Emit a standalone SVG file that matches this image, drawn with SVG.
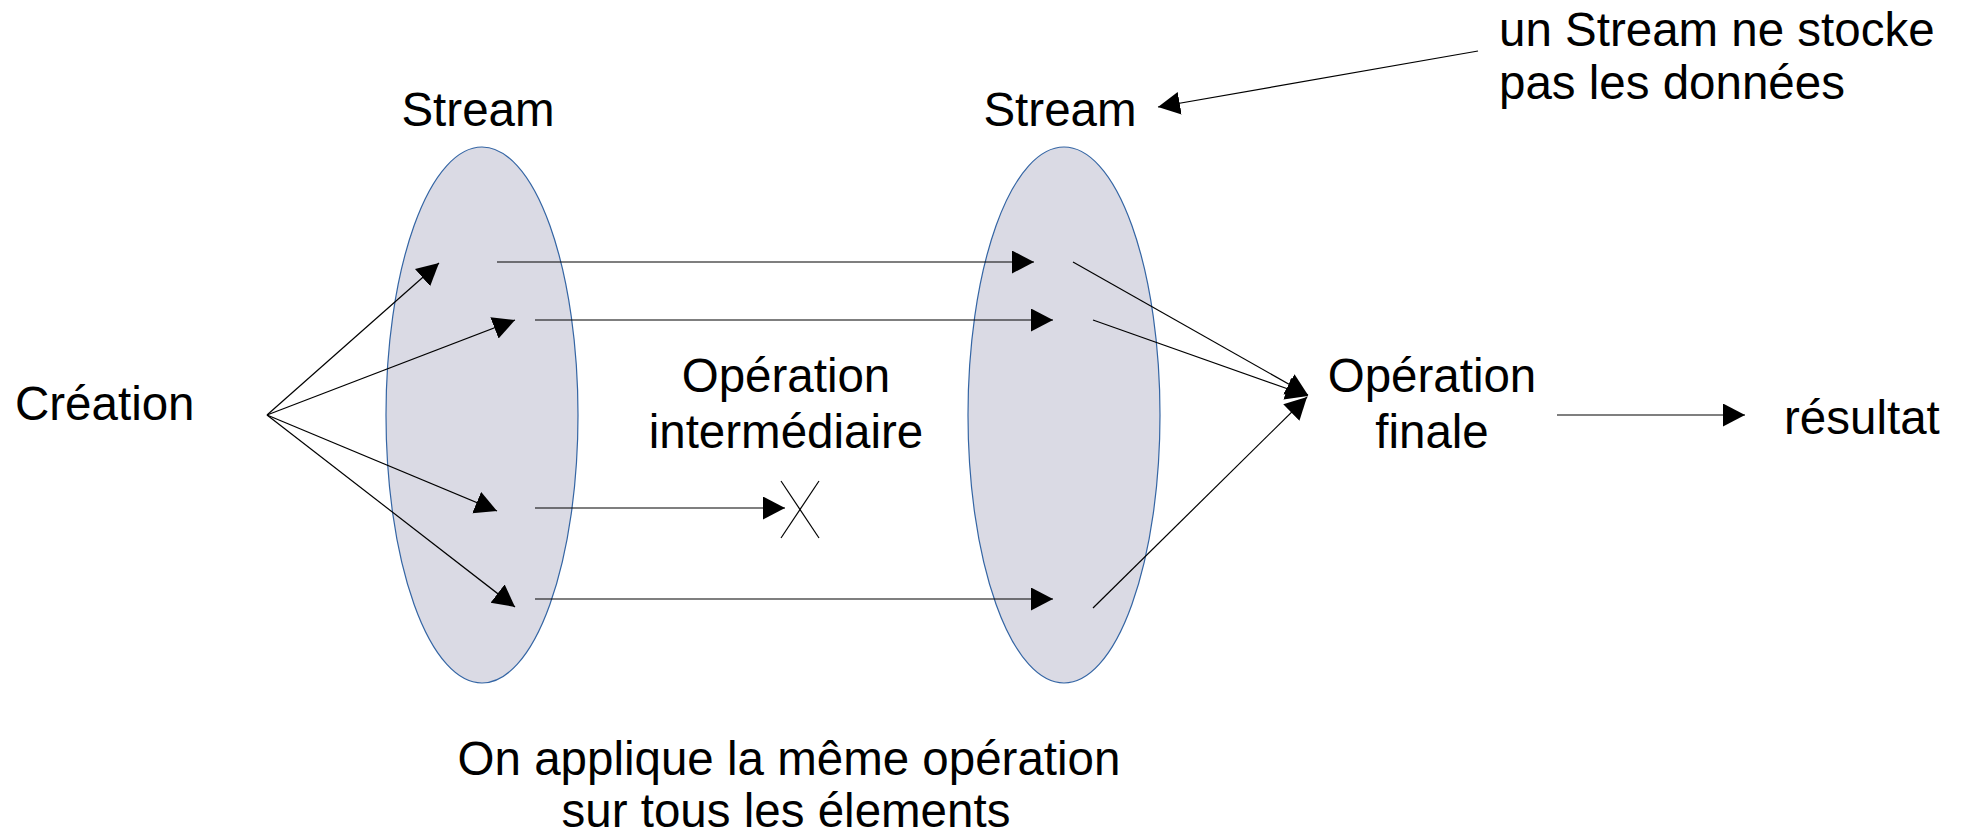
<svg xmlns="http://www.w3.org/2000/svg" width="1966" height="833" viewBox="0 0 1966 833">
<style>
text{font-family:"Liberation Sans",Arial,sans-serif;font-size:47.5px;fill:#000}
.c{text-anchor:middle}
.stream{fill:#dadae4;stroke:#3465a4;stroke-width:1.2}
.ln{stroke:#000;stroke-width:1.2;fill:none}
.ar{marker-end:url(#ah)}
</style>
<defs>
<marker id="ah" markerUnits="userSpaceOnUse" markerWidth="25" markerHeight="25" refX="22" refY="11.5" orient="auto">
<path d="M0,0 L22,11.5 L0,23 z" fill="#000"/>
</marker>
</defs>
<rect width="1966" height="833" fill="#fff"/>
<g id="stream1">
<ellipse class="stream" cx="482" cy="415" rx="96" ry="268"/>
<text class="c" x="478" y="126">Stream</text>
</g>
<g id="stream2">
<ellipse class="stream" cx="1064" cy="415" rx="96" ry="268"/>
<text class="c" x="1060" y="126">Stream</text>
</g>
<g id="creation"><text x="15" y="420">Création</text></g>
<g id="op-inter"><text class="c" x="786" y="392">Opération</text><text class="c" x="786" y="448">intermédiaire</text></g>
<g id="op-finale"><text class="c" x="1432" y="392">Opération</text><text class="c" x="1432" y="448">finale</text></g>
<g id="resultat"><text x="1784" y="434">résultat</text></g>
<g id="note"><text x="1499" y="46">un Stream ne stocke</text><text x="1499" y="99">pas les données</text></g>
<g id="caption"><text class="c" x="789" y="775">On applique la même opération</text><text class="c" x="786" y="827">sur tous les élements</text></g>
<g id="cross" class="ln"><line x1="781" y1="481" x2="819" y2="538"/><line x1="819" y1="481" x2="781" y2="538"/></g>
<g id="connectors" class="ln">
<line class="ar" x1="267" y1="415" x2="439" y2="263"/>
<line class="ar" x1="267" y1="415" x2="515" y2="320"/>
<line class="ar" x1="267" y1="415" x2="497" y2="511"/>
<line class="ar" x1="267" y1="415" x2="515" y2="607"/>
<line class="ar" x1="497" y1="262" x2="1034" y2="262"/>
<line class="ar" x1="535" y1="320" x2="1053" y2="320"/>
<line class="ar" x1="535" y1="508" x2="785" y2="508"/>
<line class="ar" x1="535" y1="599" x2="1053" y2="599"/>
<line class="ar" x1="1073" y1="262" x2="1308" y2="395"/>
<line class="ar" x1="1093" y1="320" x2="1308" y2="396"/>
<line class="ar" x1="1093" y1="608" x2="1307" y2="397"/>
<line class="ar" x1="1557" y1="415" x2="1745" y2="415"/>
<line class="ar" x1="1478" y1="51" x2="1158" y2="107"/>
</g>
</svg>
